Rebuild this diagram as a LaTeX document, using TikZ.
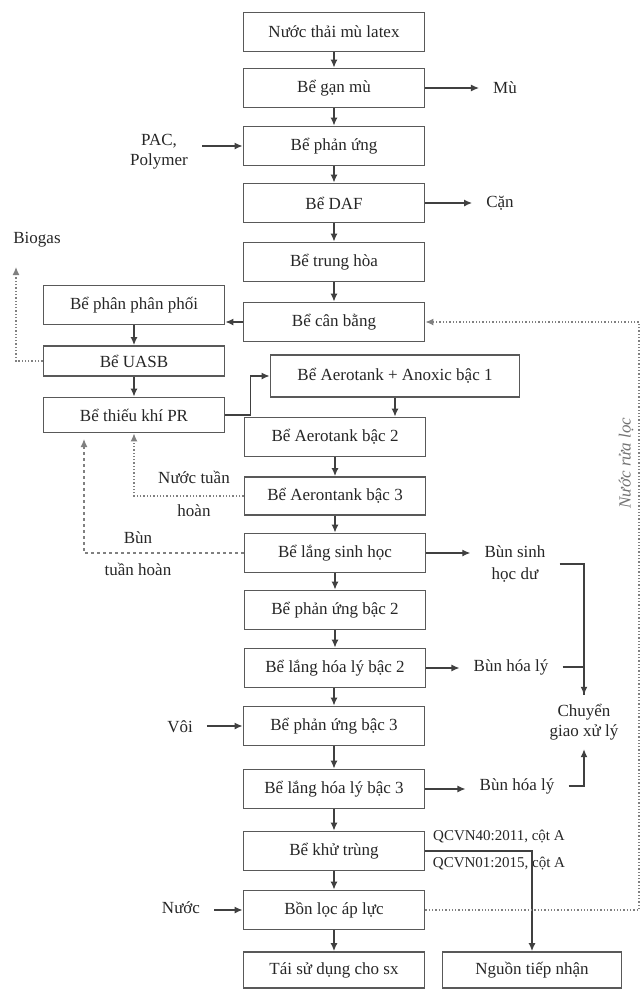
\documentclass[tikz,border=0pt]{standalone}
\usepackage{fontspec}
\setmainfont{Liberation Serif}
\usepackage{tikz}
\usetikzlibrary{arrows.meta}

\begin{document}
\begin{tikzpicture}[x=1pt,y=-1pt,
        font=\fontsize{17}{20}\selectfont,
        box/.style={draw=black!65, line width=1.8pt, minimum width=181pt, minimum height=39pt, inner sep=0pt, text=black!85},
        lbl/.style={inner xsep=14pt, inner ysep=2pt, align=center, text=black!85},
        flow/.style={draw=black!75, line width=1.3pt, -{Latex[length=8pt,width=7pt]}},
        dotflow/.style={flow, draw=black!50, dotted},
        dashflow/.style={flow, draw=black!50, dashed}]
                \useasboundingbox (0,0) rectangle (643,989);

                % Main line
                \node[box] (latex) at (334,32) {Nước thải mù latex};
                \node[box] (ganmu) at (334,88) {Bể gạn mù};
                \node[box] (phanung) at (334,146) {Bể phản ứng};
                \node[box] (daf) at (334,203) {Bể DAF};
                \node[box] (trunghoa) at (334,262) {Bể trung hòa};
                \node[box] (canbang) at (334,322) {Bể cân bằng};
                \node[box, minimum width=249pt, minimum height=42pt] (anoxic) at (395,376) {Bể Aerotank + Anoxic bậc 1};
                \node[box] (aero2) at (335,437) {Bể Aerotank bậc 2};
                \node[box, minimum height=38pt] (aero3) at (335,496) {Bể Aerontank bậc 3};
                \node[box] (langsh) at (335,553) {Bể lắng sinh học};
                \node[box] (pu2) at (335,610) {Bể phản ứng bậc 2};
                \node[box] (lang2) at (335,668) {Bể lắng hóa lý bậc 2};
                \node[box] (pu3) at (334,726) {Bể phản ứng bậc 3};
                \node[box] (lang3) at (334,789) {Bể lắng hóa lý bậc 3};
                \node[box] (khutrung) at (334,851) {Bể khử trùng};
                \node[box] (bonloc) at (334,910) {Bồn lọc áp lực};
                \node[box, minimum height=36pt] (taisd) at (334,970) {Tái sử dụng cho sx};
                \node[box, minimum width=179pt, minimum height=36pt] (nguon) at (532,970) {Nguồn tiếp nhận};

                % Anaerobic branch
                \node[box] (phanphoi) at (134,305) {Bể phân phân phối};
                \node[box, minimum height=30pt] (uasb) at (134,361) {Bể UASB};
                \node[box, minimum height=35pt] (thieukhi) at (134,415) {Bể thiếu khí PR};

                % Side texts
                \node[lbl] (mu) at (505,88) {Mù};
                \node[lbl] (can) at (500,203) {Cặn};
                \node[lbl] (pac) at (159,152) {PAC,\\Polymer};
                \node[text=black!85] (biogas) at (37,240) {Biogas};
                \node[lbl] (nth) at (194,494) {Nước tuần\\[13pt]hoàn};
                \node[lbl] (bth) at (138,554) {Bùn\\[12pt]tuần hoàn};
                \node[lbl] (bunsh) at (515,564) {Bùn sinh\\[2pt]học dư};
                \node[lbl] (bunhl2) at (511,667) {Bùn hóa lý};
                \node[lbl] (bunhl3) at (517,786) {Bùn hóa lý};
                \node[align=center, inner ysep=9pt, text=black!85] (cgxl) at (584,722) {Chuyển\\giao xử lý};
                \node[lbl] (voi) at (180,727) {Vôi};
                \node[lbl] (nuoc) at (181,908) {Nước};
                \node[font=\fontsize{15}{17}\selectfont, text=black!85] (qc40) at (499,837) {QCVN40:2011, cột A};
                \node[font=\fontsize{15}{17}\selectfont, text=black!85] (qc01) at (499,864) {QCVN01:2015, cột A};
                \node[rotate=90, font=\fontsize{17}{20}\selectfont\itshape, text=black!55] (rualoc) at (626,463) {Nước rửa lọc};

                \coordinate (bg) at (16,267);
                \coordinate (bthtip) at (84,439);
                \coordinate (rl) at (639,322);

                % Flow down the main line
                \draw[flow] (latex) -- (ganmu);
                \draw[flow] (ganmu) -- (phanung);
                \draw[flow] (phanung) -- (daf);
                \draw[flow] (daf) -- (trunghoa);
                \draw[flow] (trunghoa) -- (canbang);
                \draw[flow] (canbang.west) -- (canbang.west -| phanphoi.east);
                \draw[flow] (phanphoi) -- (uasb);
                \draw[flow] (uasb) -- (thieukhi);
                \draw[flow] (thieukhi.east) -- ++(25,0) |- (anoxic.west);
                \draw[flow] (anoxic.south) -- (anoxic.south |- aero2.north);
                \draw[flow] (aero2) -- (aero3);
                \draw[flow] (aero3) -- (langsh);
                \draw[flow] (langsh) -- (pu2);
                \draw[flow] (pu2) -- (lang2);
                \draw[flow] (lang2.south -| pu3) -- (pu3);
                \draw[flow] (pu3) -- (lang3);
                \draw[flow] (lang3) -- (khutrung);
                \draw[flow] (khutrung) -- (bonloc);
                \draw[flow] (bonloc) -- (taisd);
                \draw[flow] (khutrung.east) -| (nguon.north);

                % Inputs and outputs
                \draw[flow] (ganmu.east) -- (ganmu.east -| mu.west);
                \draw[flow] (daf.east) -- (daf.east -| can.west);
                \draw[flow] (pac.east |- phanung) -- (phanung.west);
                \draw[flow] (voi.east |- pu3) -- (pu3.west);
                \draw[flow] (nuoc.east |- bonloc) -- (bonloc.west);
                \draw[flow] (langsh.east) -- (langsh.east -| bunsh.west);
                \draw[flow] (lang2.east) -- (lang2.east -| bunhl2.west);
                \draw[flow] (lang3.east) -- (lang3.east -| bunhl3.west);

                % Sludge to disposal
                \draw[flow] (bunsh.east) -| (cgxl.north);
                \draw[draw=black!75, line width=1.3pt] (bunhl2.east) -| (cgxl.north);
                \draw[flow] (bunhl3.east) -| (cgxl.south);

                % Return lines
                \draw[dotflow] (uasb.west) -| (bg);
                \draw[dotflow] (aero3.west) -| (thieukhi.south);
                \draw[dashflow] (langsh.west) -| (bthtip);
                \draw[dotflow] (bonloc.east) -| (rl) -- (canbang.east);
            \end{tikzpicture}
\end{document}
